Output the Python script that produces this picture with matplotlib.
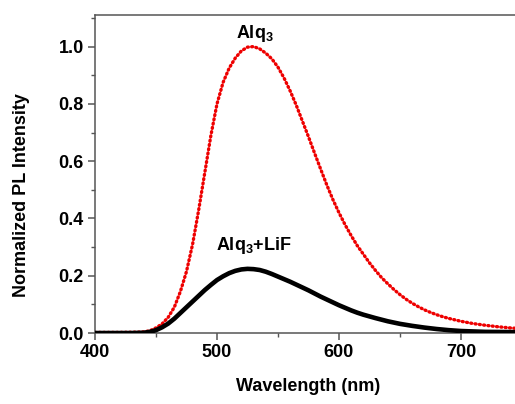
import matplotlib
matplotlib.use("Agg")
import matplotlib.pyplot as plt
from matplotlib.ticker import MultipleLocator

plt.rcParams['font.family'] = ['Liberation Sans', 'DejaVu Sans']
plt.rcParams['font.weight'] = 'bold'
plt.rcParams['mathtext.default'] = 'regular'

# wavelength (nm) and normalized PL
wl_alq = [400, 420, 435, 440, 445, 450, 455, 460, 465, 470, 475, 480, 485, 490, 495,
          500, 505, 510, 515, 520, 525, 530, 535, 540, 545, 550, 555, 560, 565, 570,
          575, 580, 585, 590, 595, 600, 605, 610, 615, 620, 625, 630, 635, 640, 645,
          650, 655, 660, 665, 670, 675, 680, 685, 690, 695, 700, 710, 720, 730, 740, 750]
pl_alq = [0.002, 0.002, 0.003, 0.004, 0.008, 0.018, 0.032, 0.055, 0.09, 0.145, 0.215, 0.31,
          0.43, 0.56, 0.69, 0.80, 0.875, 0.925, 0.96, 0.985, 0.998, 1.0, 0.992, 0.977, 0.957,
          0.928, 0.89, 0.845, 0.795, 0.74, 0.685, 0.628, 0.572, 0.517, 0.466, 0.42, 0.378,
          0.34, 0.305, 0.275, 0.245, 0.218, 0.193, 0.172, 0.152, 0.134, 0.118, 0.104, 0.092,
          0.081, 0.072, 0.064, 0.057, 0.051, 0.046, 0.041, 0.033, 0.027, 0.022, 0.018, 0.015]

wl_lif = [400, 430, 440, 445, 450, 455, 460, 465, 470, 475, 480, 485, 490, 495, 500,
          505, 510, 515, 520, 525, 530, 535, 540, 545, 550, 555, 560, 565, 570, 575,
          580, 585, 590, 595, 600, 605, 610, 615, 620, 630, 640, 650, 660, 670, 680, 690,
          700, 720, 750]
pl_lif = [0.0, 0.0, 0.001, 0.004, 0.01, 0.02, 0.033, 0.05, 0.07, 0.09, 0.11, 0.13, 0.15,
          0.168, 0.185, 0.198, 0.209, 0.217, 0.222, 0.224, 0.223, 0.22, 0.214, 0.206, 0.197,
          0.188, 0.179, 0.169, 0.159, 0.149, 0.138, 0.127, 0.117, 0.107, 0.097, 0.088, 0.079,
          0.071, 0.064, 0.052, 0.041, 0.032, 0.025, 0.019, 0.014, 0.01, 0.007, 0.004, 0.003]

fig = plt.figure(figsize=(5.15, 4.04), dpi=100)
ax = fig.add_axes([0.1845, 0.1757, 0.829, 0.787])

ax.plot(wl_alq, pl_alq, color='#ee0000', lw=2.4, ls=(0, (0.3, 1.0)),
        dash_capstyle='round', zorder=2)
ax.plot(wl_lif, pl_lif, color='black', lw=3.3, zorder=3)

ax.set_xlim(400, 750)
ax.set_ylim(0, 1.11)
ax.xaxis.set_major_locator(MultipleLocator(100))
ax.xaxis.set_minor_locator(MultipleLocator(50))
ax.yaxis.set_major_locator(MultipleLocator(0.2))
ax.yaxis.set_minor_locator(MultipleLocator(0.1))
ax.yaxis.set_major_formatter(plt.FormatStrFormatter('%.1f'))

for s in ax.spines.values():
    s.set_color('#555555')
    s.set_linewidth(1.1)
ax.tick_params(which='major', direction='out', length=5, width=1.1, color='#555555',
               labelsize=13, pad=3)
ax.tick_params(which='minor', direction='out', length=3, width=1.0, color='#555555')

ax.set_xlabel('Wavelength (nm)', fontsize=13, fontweight='bold', labelpad=12)
ax.set_ylabel('Normalized PL Intensity', fontsize=13, fontweight='bold')
ax.yaxis.set_label_coords(-0.152, 0.434)

ax.text(531, 1.045, r'Alq$_3$', fontsize=13, fontweight='bold', ha='center', va='center')
ax.text(530, 0.305, r'Alq$_3$+LiF', fontsize=13, fontweight='bold', ha='center', va='center')

fig.savefig('out.png', dpi=100)
